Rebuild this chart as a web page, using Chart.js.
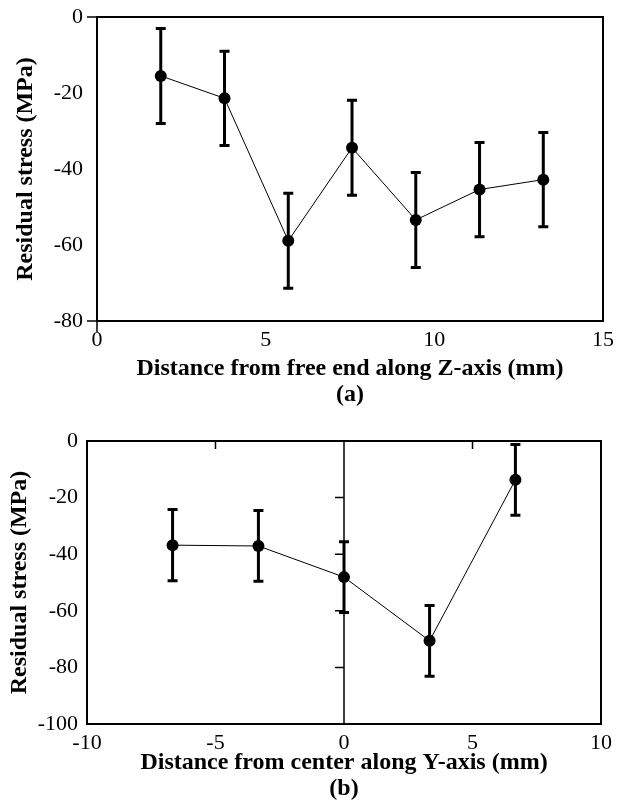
<!DOCTYPE html>
<html>
<head>
<meta charset="utf-8">
<script src="https://cdn.jsdelivr.net/npm/chart.js@4.4.1/dist/chart.umd.min.js"></script>
<style>
  html, body { margin: 0; padding: 0; background: #fff; width: 622px; height: 812px; overflow: hidden; }
  canvas { position: absolute; left: 0; }
  #chartA { top: 0; }
  #chartB { top: 410px; }
</style>
</head>
<body>
<canvas id="chartA" width="622" height="410"></canvas>
<canvas id="chartB" width="622" height="402"></canvas>
<script>
// (a) residual stress along Z-axis
const zDistance = [1.89, 3.78, 5.67, 7.56, 9.45, 11.34, 13.23];
const zStress   = [-15.5, -21.4, -58.9, -34.4, -53.4, -45.4, -42.8];
const zError    = [12.5, 12.4, 12.5, 12.5, 12.5, 12.4, 12.4];

// (b) residual stress along Y-axis
const yDistance = [-6.67, -3.33, 0, 3.33, 6.67];
const yStress   = [-36.8, -37.1, -48.1, -70.6, -13.7];
const yError    = [12.6, 12.5, 12.5, 12.5, 12.5];

const FONT = "'Liberation Serif', 'Times New Roman', serif";

// error bars + plot frame, all placed through the chart scales
const errorBarsAndFrame = {
  id: 'errorBarsAndFrame',
  beforeDatasetsDraw(chart, args, opts) {
    const { ctx, scales: { x, y } } = chart;
    const ds = chart.data.datasets[0];
    ctx.save();
    ctx.strokeStyle = '#000';
    ctx.lineWidth = 3;
    ds.data.forEach((p, i) => {
      const px = x.getPixelForValue(p.x);
      const top = y.getPixelForValue(p.y + ds.errors[i]);
      const bot = y.getPixelForValue(p.y - ds.errors[i]);
      ctx.beginPath();
      ctx.moveTo(px, top); ctx.lineTo(px, bot);
      ctx.moveTo(px - 5, top); ctx.lineTo(px + 5, top);
      ctx.moveTo(px - 5, bot); ctx.lineTo(px + 5, bot);
      ctx.stroke();
    });
    ctx.restore();
  },
  afterDraw(chart, args, opts) {
    const { ctx, chartArea: a, scales: { x, y } } = chart;
    ctx.save();
    ctx.strokeStyle = '#000';
    ctx.lineWidth = 2;
    ctx.strokeRect(a.left, a.top, a.right - a.left, a.bottom - a.top);
    ctx.lineWidth = 1.5;
    ctx.beginPath();
    if (opts.cornerTicks) {
      // short outward marks at the lower-left and upper-left corners
      ctx.moveTo(a.left - 10, y.getPixelForValue(y.max)); ctx.lineTo(a.left, y.getPixelForValue(y.max));
      ctx.moveTo(a.left - 10, y.getPixelForValue(y.min)); ctx.lineTo(a.left, y.getPixelForValue(y.min));
      ctx.moveTo(a.left, a.bottom); ctx.lineTo(a.left, a.bottom + 11);
    }
    if (opts.zeroAxis) {
      // y axis crossing at x = 0, x axis crossing at y = 0 (top)
      const x0 = x.getPixelForValue(0);
      ctx.moveTo(x0, a.top); ctx.lineTo(x0, a.bottom);
      y.ticks.forEach(t => {
        if (t.value === y.min || t.value === y.max) return;
        const py = y.getPixelForValue(t.value);
        ctx.moveTo(x0 - 9, py); ctx.lineTo(x0, py);
      });
      x.ticks.forEach(t => {
        if (t.value === x.min || t.value === x.max || t.value === 0) return;
        const px = x.getPixelForValue(t.value);
        ctx.moveTo(px, a.top); ctx.lineTo(px, a.top + 8);
      });
    }
    ctx.stroke();
    ctx.restore();
  }
};

function noOverflow(s) {
  s.paddingTop = 0; s.paddingBottom = 0; s.paddingLeft = 0; s.paddingRight = 0;
}

function makeChart(id, xs, ys, errs, cfg) {
  return new Chart(document.getElementById(id), {
    type: 'scatter',
    data: {
      datasets: [{
        data: xs.map((v, i) => ({ x: v, y: ys[i] })),
        errors: errs,
        showLine: true,
        borderColor: '#000',
        borderWidth: 1,
        pointRadius: 6,
        pointBackgroundColor: '#000',
        pointBorderWidth: 0
      }]
    },
    options: {
      responsive: false,
      animation: false,
      events: [],
      layout: { padding: { top: cfg.padTop, right: cfg.padRight, left: 0, bottom: 0 } },
      plugins: {
        legend: { display: false },
        tooltip: { enabled: false },
        errorBarsAndFrame: { cornerTicks: cfg.cornerTicks, zeroAxis: cfg.zeroAxis }
      },
      scales: {
        x: {
          type: 'linear',
          min: cfg.xMin, max: cfg.xMax,
          grid: { display: false, drawTicks: false },
          border: { display: false },
          ticks: { stepSize: 5, padding: 6, color: '#000', font: { family: FONT, size: 22 }, maxRotation: 0 },
          title: {
            display: true,
            text: cfg.xTitle,
            color: '#000',
            font: { family: FONT, size: 24, weight: 'bold', lineHeight: 1.08 },
            padding: { top: 0, bottom: cfg.xTitlePad }
          },
          afterFit: s => { s.height = cfg.xAxisHeight; noOverflow(s); }
        },
        y: {
          type: 'linear',
          min: cfg.yMin, max: 0,
          grid: { display: false, drawTicks: false },
          border: { display: false },
          ticks: { stepSize: 20, padding: cfg.yTickPad, color: '#000', font: { family: FONT, size: 22 } },
          title: {
            display: true,
            text: 'Residual stress (MPa)',
            color: '#000',
            font: { family: FONT, size: 24, weight: 'bold', lineHeight: 1.08 },
            padding: { top: cfg.yTitlePad, bottom: 0 }
          },
          afterFit: s => { s.width = cfg.yAxisWidth; noOverflow(s); }
        }
      }
    },
    plugins: [errorBarsAndFrame]
  });
}

makeChart('chartA', zDistance, zStress, zError, {
  xMin: 0, xMax: 15, yMin: -80,
  xTitle: ['Distance from free end along Z-axis (mm)', '(a)'],
  padTop: 17, padRight: 19,
  xAxisHeight: 89, xTitlePad: 2,
  yAxisWidth: 97, yTickPad: 14, yTitlePad: 13,
  cornerTicks: true, zeroAxis: false
});

makeChart('chartB', yDistance, yStress, yError, {
  xMin: -10, xMax: 10, yMin: -100,
  xTitle: ['Distance from center along Y-axis (mm)', '(b)'],
  padTop: 31, padRight: 21,
  xAxisHeight: 88, xTitlePad: 10,
  yAxisWidth: 87, yTickPad: 9, yTitlePad: 7,
  cornerTicks: false, zeroAxis: true
});
</script>
</body>
</html>
